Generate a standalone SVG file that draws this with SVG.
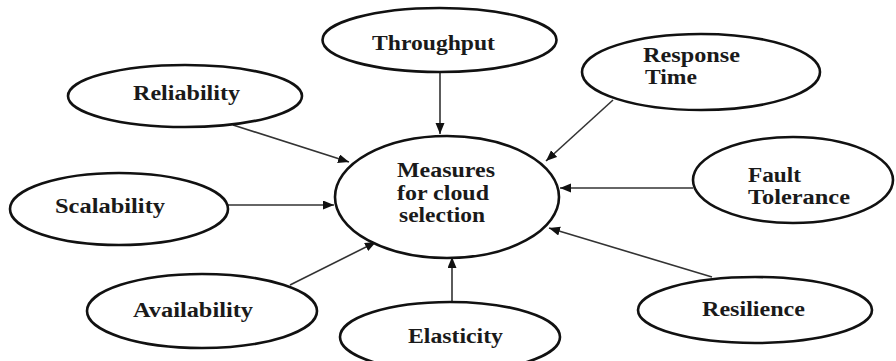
<svg xmlns="http://www.w3.org/2000/svg" width="896" height="361" viewBox="0 0 896 361">
<style>
.n{fill:#fff;stroke:#111;stroke-width:2.6}
.t{font-family:'Liberation Serif','Times New Roman',serif;font-weight:700;font-size:20px;fill:#1a1a1a}
.c{stroke:#333;stroke-width:1.6;fill:none;marker-end:url(#ah)}
</style>
<defs>
<marker id="ah" markerUnits="userSpaceOnUse" markerWidth="12" markerHeight="10" refX="11" refY="4.5" orient="auto">
<path d="M0,0 L11,4.5 L0,9 z" fill="#111"/>
</marker>
</defs>
<rect width="896" height="361" fill="#fff"/>
<g id="connectors">
<line class="c" x1="440" y1="72" x2="440" y2="134"/>
<line class="c" x1="233" y1="125" x2="349" y2="162"/>
<line class="c" x1="228" y1="205" x2="334" y2="205"/>
<line class="c" x1="290" y1="285" x2="376" y2="242"/>
<line class="c" x1="452" y1="302" x2="452" y2="257"/>
<line class="c" x1="712" y1="277" x2="549" y2="228"/>
<line class="c" x1="693" y1="188" x2="560" y2="188"/>
<line class="c" x1="613" y1="100" x2="546" y2="161"/>
</g>
<g id="center">
<ellipse class="n" cx="447" cy="197" rx="112" ry="61"/>
<text class="t" x="397" y="177" textLength="98" lengthAdjust="spacingAndGlyphs">Measures</text>
<text class="t" x="397" y="200" textLength="92" lengthAdjust="spacingAndGlyphs">for cloud</text>
<text class="t" x="399" y="222" textLength="86" lengthAdjust="spacingAndGlyphs">selection</text>
</g>
<g id="throughput">
<ellipse class="n" cx="439.5" cy="40" rx="117" ry="32"/>
<text class="t" x="372" y="50" textLength="123" lengthAdjust="spacingAndGlyphs">Throughput</text>
</g>
<g id="reliability">
<ellipse class="n" cx="185" cy="96" rx="117" ry="31"/>
<text class="t" x="133" y="100" textLength="107" lengthAdjust="spacingAndGlyphs">Reliability</text>
</g>
<g id="scalability">
<ellipse class="n" cx="119" cy="209" rx="109" ry="36"/>
<text class="t" x="55" y="213" textLength="110" lengthAdjust="spacingAndGlyphs">Scalability</text>
</g>
<g id="availability">
<ellipse class="n" cx="202" cy="311" rx="115" ry="37"/>
<text class="t" x="133" y="317" textLength="120" lengthAdjust="spacingAndGlyphs">Availability</text>
</g>
<g id="elasticity">
<ellipse class="n" cx="450" cy="337" rx="110" ry="35"/>
<text class="t" x="408" y="343" textLength="95" lengthAdjust="spacingAndGlyphs">Elasticity</text>
</g>
<g id="resilience">
<ellipse class="n" cx="755" cy="310" rx="117" ry="33"/>
<text class="t" x="702" y="316" textLength="103" lengthAdjust="spacingAndGlyphs">Resilience</text>
</g>
<g id="fault-tolerance">
<ellipse class="n" cx="793" cy="180" rx="100" ry="43"/>
<text class="t" x="748" y="182" textLength="53" lengthAdjust="spacingAndGlyphs">Fault</text>
<text class="t" x="748" y="204" textLength="102" lengthAdjust="spacingAndGlyphs">Tolerance</text>
</g>
<g id="response-time">
<ellipse class="n" cx="701" cy="72" rx="119" ry="38"/>
<text class="t" x="643" y="62" textLength="97" lengthAdjust="spacingAndGlyphs">Response</text>
<text class="t" x="645" y="84" textLength="52" lengthAdjust="spacingAndGlyphs">Time</text>
</g>
</svg>
